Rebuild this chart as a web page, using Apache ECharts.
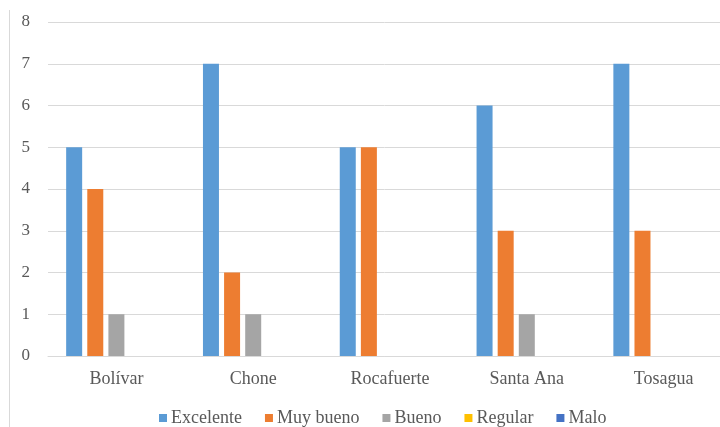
<!DOCTYPE html>
<html>
<head>
<meta charset="utf-8">
<script src="https://cdn.jsdelivr.net/npm/echarts@6/dist/echarts.min.js"></script>
<style>
  html, body { margin: 0; padding: 0; background: #fff; }
  #chart { width: 720px; height: 427px; }
</style>
</head>
<body>
<div id="chart"></div>
<script>
// Cantones evaluados
const categories = ['Bolívar', 'Chone', 'Rocafuerte', 'Santa Ana', 'Tosagua'];

// Número de respuestas por calificación
const excelente = [5, 7, 5, 6, 7];
const muyBueno  = [4, 2, 5, 3, 3];
const bueno     = [1, 1, 0, 1, 0];
const regular   = [0, 0, 0, 0, 0];
const malo      = [0, 0, 0, 0, 0];

const seriesNames = ['Excelente', 'Muy bueno', 'Bueno', 'Regular', 'Malo'];
const seriesData = [excelente, muyBueno, bueno, regular, malo];
const colors = ['#5B9BD5', '#ED7D31', '#A5A5A5', '#FFC000', '#4472C4'];

const font = "'Liberation Serif', 'Times New Roman', serif";
const textColor = '#595959';

const chart = echarts.init(document.getElementById('chart'), null, { renderer: 'canvas' });

chart.setOption({
  animation: false,
  color: colors,
  textStyle: { fontFamily: font },
  graphic: [{
    type: 'line',
    shape: { x1: 9.5, y1: 10, x2: 9.5, y2: 427 },
    style: { stroke: '#d9d9d9', lineWidth: 1 }
  }],
  grid: { left: 48, width: 684, top: 22, bottom: 71, containLabel: false, outerBoundsMode: 'none' },
  legend: {
    top: 404,
    left: 154,
    padding: [5, 5, 5, 5],
    itemWidth: 8,
    itemHeight: 8,
    itemGap: 23,
    icon: 'rect',
    textStyle: { fontFamily: font, fontSize: 18, color: textColor, padding: [0, 0, 0, -1] },
    data: seriesNames
  },
  xAxis: {
    type: 'category',
    data: categories,
    axisLine: { lineStyle: { color: '#d9d9d9', width: 1 } },
    axisTick: { show: false },
    axisLabel: { fontFamily: font, fontSize: 18, color: textColor, margin: 14 }
  },
  yAxis: {
    type: 'value',
    min: 0,
    max: 8,
    interval: 1,
    axisLine: { show: false },
    axisTick: { show: false },
    splitLine: { lineStyle: { color: '#d9d9d9', width: 1 } },
    axisLabel: { fontFamily: font, fontSize: 17, color: textColor, margin: 18 }
  },
  series: seriesNames.map((name, i) => ({
    name: name,
    type: 'bar',
    data: seriesData[i],
    barWidth: 16,
    barGap: '32%',
    itemStyle: { color: colors[i] }
  }))
});
</script>
</body>
</html>
